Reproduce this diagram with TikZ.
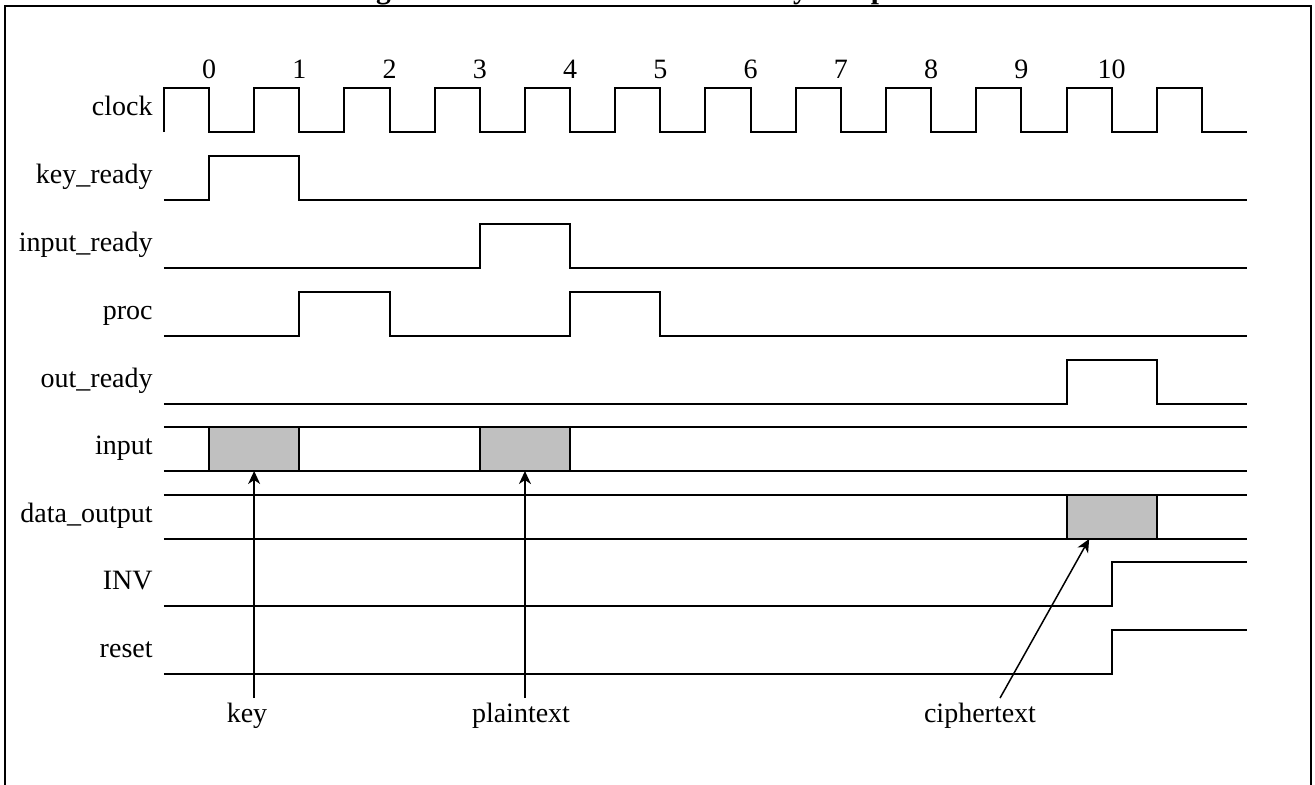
\documentclass[tikz,border=0pt]{standalone}
\usepackage{fontspec}
\setmainfont{Liberation Serif}
\usetikzlibrary{arrows.meta,calc}
\definecolor{boxgray}{RGB}{192,192,192}
\tikzset{
  sig/.style={line width=1pt, line join=miter},
  frameline/.style={line width=1pt},
  busbox/.style={draw, line width=1pt, fill=boxgray, minimum width=45.135pt,
    minimum height=22pt, inner sep=0pt, outer sep=0pt},
  siglabel/.style={anchor=base east, inner sep=0pt},
  ticklabel/.style={anchor=base, inner sep=0pt},
  notelabel/.style={anchor=base, inner sep=0pt},
  pointer/.style={line width=0.75pt, -{Stealth[length=6.5pt,width=6pt,inset=2pt]}},
}
\begin{document}
\begin{tikzpicture}[x=0.5pt, y=-0.5pt, font=\fontsize{14pt}{16pt}\selectfont]
\useasboundingbox (0,0) rectangle (1315,784);
\clip (0,0) rectangle (1315,784);

% caption, mostly above the page edge
\node[anchor=base west, inner sep=0pt, font=\fontsize{14.7pt}{17pt}\selectfont\bfseries]
  (title) at (349.5,-2) {Fig. 4. Interface Waveforms for Key Setup};

% surrounding frame
\draw[frameline] (5,800) -- (5,6) -- (1311,6) -- (1311,800);

% signal names
\foreach \txt/\hi [count=\i] in {clock/88, key\_ready/156, input\_ready/224,
    proc/292, out\_ready/360, input/427, data\_output/495, INV/562, reset/630}
  \node[siglabel] (lbl\i) at (153,{\hi+27}) {\txt};

% clock cycle numbers
\foreach \k in {0,...,10}
  \node[ticklabel] (tick\k) at ({209+90.27*\k},78) {\k};

\begin{scope}[xshift=104.5pt, x=45.135pt]
  % clock
  \draw[sig] (-0.5,132) foreach \k in {0,...,11} {
      -- ++(0,-44) -- (\k,88) -- (\k,132) -- ++(0.5,0) };
  % key_ready
  \draw[sig] (-0.5,200) -- (0,200) -- (0,156) -- (1,156) -- (1,200) -- (11.5,200);
  % input_ready
  \draw[sig] (-0.5,268) -- (3,268) -- (3,224) -- (4,224) -- (4,268) -- (11.5,268);
  % proc
  \draw[sig] (-0.5,336) -- (1,336) -- (1,292) -- (2,292) -- (2,336) -- (4,336)
    -- (4,292) -- (5,292) -- (5,336) -- (11.5,336);
  % out_ready
  \draw[sig] (-0.5,404) -- (9.5,404) -- (9.5,360) -- (10.5,360) -- (10.5,404) -- (11.5,404);
  % input bus
  \draw[sig] (-0.5,427) -- (11.5,427) (-0.5,471) -- (11.5,471);
  \node[busbox] (keybox) at (0.5,449) {};
  \node[busbox] (ptbox) at (3.5,449) {};
  % data_output bus
  \draw[sig] (-0.5,495) -- (11.5,495) (-0.5,539) -- (11.5,539);
  \node[busbox] (ctbox) at (10,517) {};
  % INV
  \draw[sig] (-0.5,606) -- (10,606) -- (10,562) -- (11.5,562);
  % reset
  \draw[sig] (-0.5,674) -- (10,674) -- (10,630) -- (11.5,630);

  % pointers to the bus values
  \coordinate (keytail) at (0.5,698);
  \coordinate (pttail) at (3.5,698);
  \coordinate (cttail) at (8.763,698);
  \draw[pointer] (keytail) -- (keybox.south);
  \draw[pointer] (pttail) -- (ptbox.south);
  \draw[pointer] (cttail) -- ($(ctbox.south west)!0.25!(ctbox.south east)$);
\end{scope}

% value names
\node[notelabel] (keylbl) at (247,722) {key};
\node[notelabel] (ptlbl) at (521,722) {plaintext};
\node[notelabel] (ctlbl) at (980,722) {ciphertext};
\end{tikzpicture}
\end{document}
